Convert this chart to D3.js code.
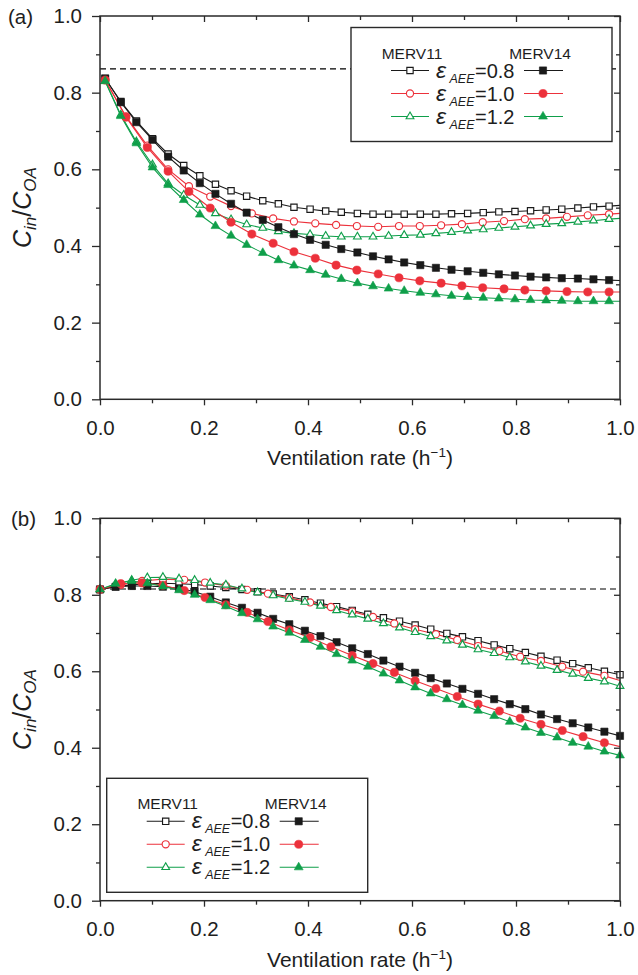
<!DOCTYPE html>
<html><head><meta charset="utf-8">
<script src="https://cdn.jsdelivr.net/npm/d3@7"></script>
<style>body{margin:0;background:#fff;} svg{display:block;font-family:"Liberation Sans",Arial,Helvetica,sans-serif;}</style>
</head><body><svg id="c" width="638" height="975"></svg>
<script>
// ---------- data ----------
const panelA_x33 = [0.010,0.040,0.070,0.101,0.131,0.161,0.192,0.222,0.252,0.282,0.313,0.343,0.373,0.404,0.434,0.464,0.495,0.525,0.555,0.585,0.616,0.646,0.676,0.707,0.737,0.767,0.798,0.828,0.858,0.888,0.919,0.949,0.979];
const panelA_x25 = [0.010,0.050,0.091,0.131,0.171,0.212,0.252,0.292,0.333,0.373,0.414,0.454,0.494,0.535,0.575,0.615,0.656,0.696,0.736,0.777,0.817,0.858,0.898,0.938,0.979];
const panelB_x34 = [0.000,0.030,0.061,0.091,0.121,0.152,0.182,0.212,0.242,0.273,0.303,0.333,0.364,0.394,0.424,0.455,0.485,0.515,0.545,0.576,0.606,0.636,0.667,0.697,0.727,0.758,0.788,0.818,0.848,0.879,0.909,0.939,0.970,1.000];
const panelB_x25 = [0.000,0.040,0.081,0.121,0.162,0.202,0.242,0.283,0.323,0.364,0.404,0.444,0.485,0.525,0.566,0.606,0.646,0.687,0.727,0.768,0.808,0.848,0.889,0.929,0.970];

// Panel (a)
const A_merv11_e08 = [0.837,0.777,0.726,0.680,0.640,0.610,0.583,0.561,0.544,0.530,0.518,0.510,0.501,0.496,0.491,0.488,0.485,0.483,0.483,0.483,0.483,0.483,0.484,0.485,0.487,0.489,0.490,0.492,0.494,0.496,0.499,0.502,0.504];
const A_merv14_e08 = [0.837,0.775,0.723,0.677,0.633,0.597,0.564,0.536,0.510,0.487,0.468,0.449,0.431,0.416,0.403,0.392,0.383,0.373,0.365,0.357,0.350,0.343,0.338,0.334,0.330,0.326,0.323,0.320,0.318,0.316,0.315,0.313,0.311];
const A_merv11_e10 = [0.833,0.738,0.662,0.600,0.556,0.529,0.504,0.485,0.472,0.464,0.459,0.455,0.452,0.450,0.452,0.452,0.454,0.457,0.462,0.465,0.470,0.472,0.476,0.480,0.483];
const A_merv14_e10 = [0.833,0.736,0.657,0.595,0.542,0.499,0.462,0.431,0.407,0.385,0.368,0.350,0.337,0.327,0.317,0.309,0.303,0.296,0.291,0.288,0.285,0.283,0.281,0.280,0.280];
const A_merv11_e12 = [0.830,0.742,0.672,0.612,0.563,0.533,0.507,0.485,0.469,0.456,0.447,0.438,0.433,0.430,0.426,0.424,0.424,0.424,0.426,0.428,0.429,0.433,0.436,0.440,0.443,0.447,0.450,0.453,0.457,0.459,0.463,0.466,0.470];
const A_merv14_e12 = [0.830,0.739,0.668,0.605,0.559,0.520,0.482,0.452,0.427,0.403,0.382,0.363,0.349,0.337,0.325,0.314,0.303,0.295,0.289,0.283,0.278,0.274,0.270,0.267,0.265,0.263,0.261,0.259,0.258,0.257,0.256,0.256,0.256];
const A_lineEnd_merv11 = [0.506,0.485,0.472];   // curve value at x = 1.0 (e=0.8,1.0,1.2)
const A_lineEnd_merv14 = [0.310,0.280,0.256];
const A_reference = 0.862;

// Panel (b)
const B_merv11_e08 = [0.814,0.821,0.826,0.829,0.830,0.829,0.827,0.823,0.819,0.814,0.808,0.802,0.795,0.787,0.778,0.769,0.759,0.749,0.740,0.731,0.721,0.710,0.699,0.690,0.680,0.669,0.659,0.649,0.639,0.629,0.620,0.609,0.600,0.591];
const B_merv14_e08 = [0.814,0.821,0.823,0.823,0.821,0.817,0.808,0.795,0.780,0.766,0.753,0.737,0.723,0.706,0.692,0.676,0.660,0.645,0.628,0.612,0.596,0.582,0.568,0.554,0.541,0.527,0.514,0.501,0.487,0.475,0.464,0.453,0.442,0.431];
const B_merv11_e10 = [0.814,0.826,0.836,0.841,0.839,0.832,0.824,0.813,0.803,0.792,0.780,0.768,0.756,0.742,0.725,0.710,0.697,0.682,0.666,0.653,0.638,0.627,0.612,0.599,0.588];
const B_merv14_e10 = [0.814,0.829,0.831,0.825,0.811,0.793,0.774,0.754,0.730,0.708,0.688,0.664,0.641,0.620,0.597,0.575,0.555,0.534,0.514,0.496,0.477,0.461,0.445,0.429,0.413];
const B_merv11_e12 = [0.814,0.828,0.838,0.845,0.846,0.842,0.838,0.831,0.826,0.816,0.806,0.798,0.789,0.781,0.771,0.759,0.748,0.737,0.725,0.714,0.702,0.691,0.680,0.669,0.657,0.647,0.636,0.625,0.614,0.603,0.593,0.582,0.573,0.561];
const B_merv14_e12 = [0.814,0.829,0.836,0.830,0.822,0.812,0.800,0.786,0.770,0.752,0.736,0.717,0.701,0.682,0.664,0.645,0.628,0.612,0.594,0.576,0.558,0.542,0.527,0.512,0.497,0.483,0.468,0.453,0.439,0.427,0.413,0.403,0.390,0.380];
const B_lineEnd_merv11 = [null,0.576,null];
const B_lineEnd_merv14 = [null,0.403,null];
const B_reference = 0.815;

const epsLabels = ["0.8","1.0","1.2"];
const filterLabels = ["MERV11","MERV14"];
const majorTicks = [0,0.2,0.4,0.6,0.8,1.0];
const minorTicks = [0.1,0.3,0.5,0.7,0.9];

// ---------- style ----------
const COLORS = ["#1a1a1a","#ec313b","#0f9f4a"];
const SHAPES = ["square","circle","triangle"];
const AXC = "#2a2a2a";
const TXT = "#1e1e1e";
const svg = d3.select("#c");

function drawMarker(g, shape, filled, color, cx, cy){
  let sym, size;
  if(shape==="square"){ sym=d3.symbolSquare; size = filled?52:40; }
  else if(shape==="circle"){ sym=d3.symbolCircle; size = filled?52:40; }
  else { sym=d3.symbolTriangle; size = filled?34:26; }
  g.append("path")
    .attr("d", d3.symbol(sym,size)())
    .attr("transform",`translate(${cx},${cy})`)
    .attr("fill", filled?color:"#fff")
    .attr("stroke", color)
    .attr("stroke-width", filled?0.6:1.15);
}

function drawLegend(left, top){
  const g = svg.append("g");
  g.append("rect").attr("x",left).attr("y",top).attr("width",261).attr("height",114)
    .attr("fill","#fff").attr("stroke",AXC).attr("stroke-width",1.4);
  const row0 = top+43;
  g.append("text").attr("x",left+61).attr("y",row0-12).attr("text-anchor","middle")
    .attr("font-size",15.5).attr("fill",TXT).text(filterLabels[0]);
  g.append("text").attr("x",left+189).attr("y",row0-12).attr("text-anchor","middle")
    .attr("font-size",15.5).attr("fill",TXT).text(filterLabels[1]);
  epsLabels.forEach((lab,i)=>{
    const yy = row0 + i*23;
    const c = COLORS[i];
    g.append("line").attr("x1",left+40).attr("x2",left+78).attr("y1",yy).attr("y2",yy).attr("stroke",c).attr("stroke-width",1.1);
    drawMarker(g,SHAPES[i],false,c,left+59,yy);
    g.append("line").attr("x1",left+173).attr("x2",left+212).attr("y1",yy).attr("y2",yy).attr("stroke",c).attr("stroke-width",1.1);
    drawMarker(g,SHAPES[i],true,c,left+192,yy);
    const t = g.append("text").attr("y",yy+7).attr("fill",TXT);
    t.append("tspan").attr("x",left+85).attr("font-size",23).attr("font-style","italic").text("ε");
    t.append("tspan").attr("x",left+98.5).attr("font-size",12.5).attr("font-style","italic").attr("dy",5).text("AEE");
    t.append("tspan").attr("x",left+124).attr("font-size",20).attr("dy",-5).text("="+lab);
  });
}

function drawPanel(cfg){
  const x = d3.scaleLinear([0,1],[100,620]);
  const y = d3.scaleLinear([0,1],[cfg.bottom,cfg.top]);
  const g = svg.append("g");

  // reference dashed line
  g.append("line").attr("x1",x(0)).attr("x2",x(1)).attr("y1",y(cfg.ref)).attr("y2",y(cfg.ref))
    .attr("stroke","#000").attr("stroke-width",1.1).attr("stroke-dasharray","6,4");

  const line = d3.line().x(d=>x(d[0])).y(d=>y(d[1]));
  const series = [];
  [0,1].forEach(f=>{ // 0 = MERV11 (open), 1 = MERV14 (filled)
    [0,1,2].forEach(e=>{
      const xs = cfg.xs[e];
      const ys = cfg.vals[f][e];
      const end = cfg.ends[f][e];
      const pts = xs.map((v,i)=>[v,ys[i]]);
      const lpts = pts.slice();
      if(end!==null && xs[xs.length-1]<1) lpts.push([1.0,end]);
      series.push({f,e,pts,lpts});
    });
  });
  series.forEach(s=>{
    g.append("path").attr("d",line(s.lpts)).attr("fill","none")
      .attr("stroke",COLORS[s.e]).attr("stroke-width",1.1);
  });
  series.forEach(s=>{
    s.pts.forEach(p=>drawMarker(g,SHAPES[s.e],s.f===1,COLORS[s.e],x(p[0]),y(p[1])));
  });

  // axes
  const fmt = d3.format(".1f");
  const styleAxis = sel => { sel.select(".domain").remove(); sel.selectAll("line").attr("stroke",AXC).attr("stroke-width",1.3); sel.selectAll("text").attr("fill",TXT).attr("font-size",20.5).attr("font-family",'"Liberation Sans",Arial,sans-serif'); };
  g.append("g").attr("transform",`translate(${x(0)},0)`).call(d3.axisLeft(y).tickValues(majorTicks).tickFormat(fmt).tickSizeInner(8).tickSizeOuter(0).tickPadding(10)).call(styleAxis);
  g.append("g").attr("transform",`translate(${x(0)},0)`).call(d3.axisLeft(y).tickValues(minorTicks).tickFormat("").tickSizeInner(4).tickSizeOuter(0)).call(styleAxis);
  g.append("g").attr("transform",`translate(0,${y(0)})`).call(d3.axisBottom(x).tickValues(majorTicks).tickFormat(fmt).tickSizeInner(6).tickSizeOuter(0).tickPadding(15)).call(styleAxis);
  g.append("g").attr("transform",`translate(0,${y(0)})`).call(d3.axisBottom(x).tickValues(minorTicks).tickFormat("").tickSizeInner(4).tickSizeOuter(0)).call(styleAxis);
  g.append("g").attr("transform",`translate(0,${y(1)})`).call(d3.axisTop(x).tickValues(majorTicks).tickFormat("").tickSizeInner(-6).tickSizeOuter(0)).call(styleAxis);
  g.append("g").attr("transform",`translate(0,${y(1)})`).call(d3.axisTop(x).tickValues(minorTicks).tickFormat("").tickSizeInner(-4).tickSizeOuter(0)).call(styleAxis);
  g.append("g").attr("transform",`translate(${x(1)},0)`).call(d3.axisRight(y).tickValues(majorTicks).tickFormat("").tickSizeInner(-6).tickSizeOuter(0)).call(styleAxis);
  g.append("g").attr("transform",`translate(${x(1)},0)`).call(d3.axisRight(y).tickValues(minorTicks).tickFormat("").tickSizeInner(-4).tickSizeOuter(0)).call(styleAxis);
  // frame
  g.append("rect").attr("x",x(0)).attr("y",y(1)).attr("width",x(1)-x(0)).attr("height",y(0)-y(1))
    .attr("fill","none").attr("stroke",AXC).attr("stroke-width",1.5);

  // axis titles
  const xt = g.append("text").attr("x",(x(0)+x(1))/2).attr("y",y(0)+66).attr("text-anchor","middle")
    .attr("font-size",21).attr("fill",TXT);
  xt.append("tspan").text("Ventilation rate (h");
  xt.append("tspan").attr("font-size",13.5).attr("dy",-8).text("−1");
  xt.append("tspan").attr("dy",8).text(")");

  const yt = g.append("text").attr("transform",`translate(31,${(y(0)+y(1))/2}) rotate(-90)`)
    .attr("text-anchor","middle").attr("fill",TXT).attr("font-size",25);
  yt.append("tspan").attr("font-style","italic").text("C");
  yt.append("tspan").attr("font-style","italic").attr("font-size",17).attr("dy",5).text("in");
  yt.append("tspan").attr("dy",-5).text("/");
  yt.append("tspan").attr("font-style","italic").text("C");
  yt.append("tspan").attr("font-style","italic").attr("font-size",17).attr("dy",5).text("OA");

  // panel label
  g.append("text").attr("x",cfg.labelX).attr("y",y(1)+7.5).attr("font-size",20.5).attr("fill",TXT).text(cfg.label);

  drawLegend(cfg.legLeft, cfg.legTop);
}

drawPanel({
  top:16, bottom:399.3, ref:A_reference, label:"(a)", labelX:8,
  xs:[panelA_x33,panelA_x25,panelA_x33],
  vals:[[A_merv11_e08,A_merv11_e10,A_merv11_e12],[A_merv14_e08,A_merv14_e10,A_merv14_e12]],
  ends:[A_lineEnd_merv11,A_lineEnd_merv14],
  legLeft:351, legTop:27.5
});
drawPanel({
  top:518.3, bottom:900.7, ref:B_reference, label:"(b)", labelX:11,
  xs:[panelB_x34,panelB_x25,panelB_x34],
  vals:[[B_merv11_e08,B_merv11_e10,B_merv11_e12],[B_merv14_e08,B_merv14_e10,B_merv14_e12]],
  ends:[B_lineEnd_merv11,B_lineEnd_merv14],
  legLeft:106.7, legTop:778.3
});
</script></body></html>
